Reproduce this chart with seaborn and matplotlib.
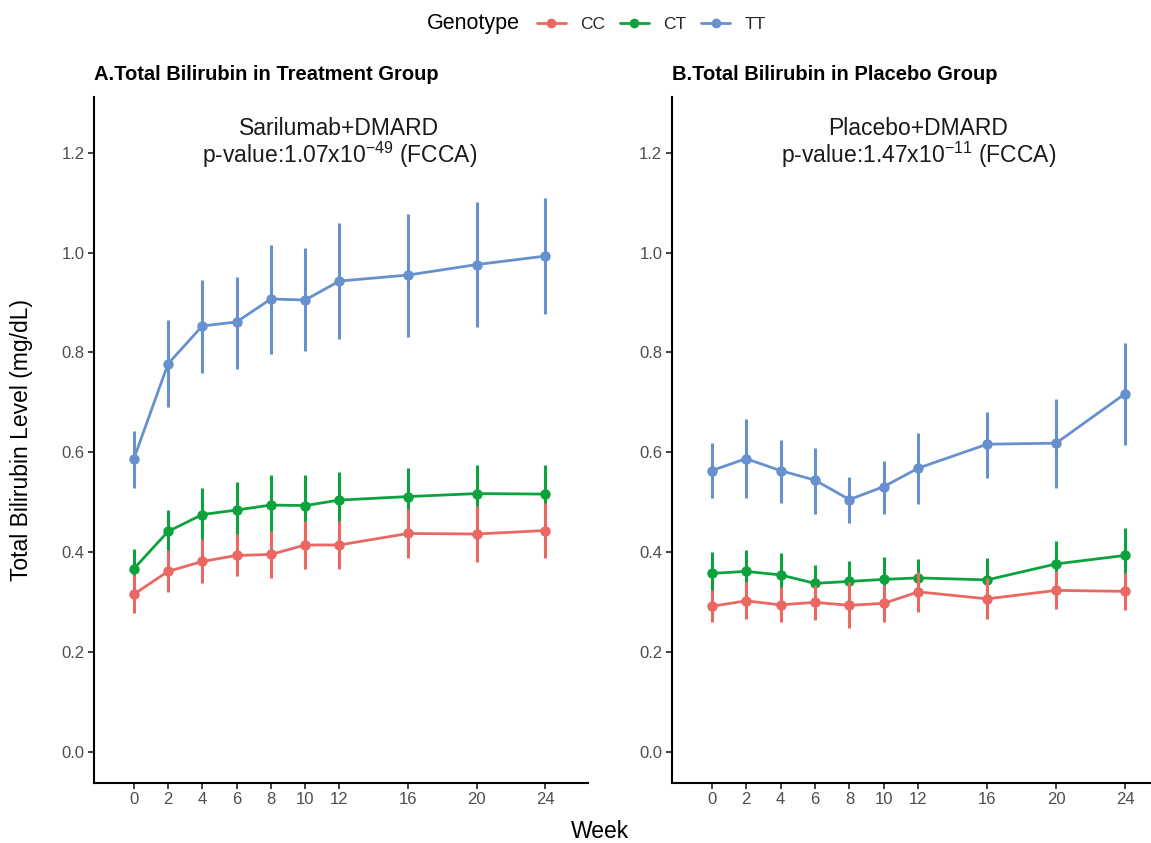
import numpy as np
import pandas as pd
import seaborn as sns
import matplotlib
matplotlib.use("Agg")
import matplotlib.pyplot as plt
from matplotlib.lines import Line2D

# ---------------- data ----------------
weeks = [0, 2, 4, 6, 8, 10, 12, 16, 20, 24]
genotypes = ["CC", "CT", "TT"]

# Panel A: Treatment (Sarilumab+DMARD)
trt_cc = [0.315, 0.361, 0.381, 0.393, 0.395, 0.414, 0.414, 0.437, 0.436, 0.443]
trt_cc_lo = [0.277, 0.319, 0.337, 0.351, 0.347, 0.365, 0.366, 0.387, 0.379, 0.387]
trt_cc_hi = [0.353, 0.403, 0.425, 0.435, 0.443, 0.463, 0.462, 0.487, 0.493, 0.499]
trt_ct = [0.366, 0.441, 0.475, 0.484, 0.494, 0.493, 0.504, 0.511, 0.517, 0.516]
trt_ct_lo = [0.327, 0.400, 0.421, 0.427, 0.434, 0.431, 0.447, 0.453, 0.460, 0.457]
trt_ct_hi = [0.405, 0.485, 0.529, 0.541, 0.554, 0.555, 0.561, 0.569, 0.574, 0.575]
trt_tt = [0.586, 0.777, 0.853, 0.861, 0.907, 0.905, 0.943, 0.955, 0.976, 0.993]
trt_tt_lo = [0.529, 0.691, 0.759, 0.767, 0.797, 0.802, 0.827, 0.831, 0.851, 0.876]
trt_tt_hi = [0.643, 0.864, 0.945, 0.952, 1.016, 1.009, 1.059, 1.077, 1.101, 1.109]

# Panel B: Placebo (Placebo+DMARD)
pbo_cc = [0.291, 0.302, 0.294, 0.299, 0.293, 0.297, 0.320, 0.306, 0.323, 0.321]
pbo_cc_lo = [0.259, 0.265, 0.259, 0.264, 0.247, 0.260, 0.280, 0.265, 0.285, 0.284]
pbo_cc_hi = [0.323, 0.339, 0.329, 0.334, 0.339, 0.334, 0.360, 0.347, 0.361, 0.358]
pbo_ct = [0.357, 0.361, 0.354, 0.337, 0.341, 0.345, 0.348, 0.344, 0.376, 0.393]
pbo_ct_lo = [0.315, 0.319, 0.311, 0.300, 0.301, 0.301, 0.310, 0.301, 0.330, 0.337]
pbo_ct_hi = [0.399, 0.403, 0.397, 0.374, 0.381, 0.389, 0.386, 0.387, 0.422, 0.449]
pbo_tt = [0.563, 0.587, 0.563, 0.544, 0.505, 0.531, 0.568, 0.616, 0.618, 0.717]
pbo_tt_lo = [0.508, 0.508, 0.499, 0.477, 0.459, 0.477, 0.496, 0.549, 0.529, 0.615]
pbo_tt_hi = [0.619, 0.666, 0.625, 0.609, 0.551, 0.583, 0.639, 0.681, 0.706, 0.819]

panel_titles = ["A.Total Bilirubin in Treatment Group", "B.Total Bilirubin in Placebo Group"]
arm_labels = ["Sarilumab+DMARD", "Placebo+DMARD"]
pvalue_labels = [r"p-value:1.07x10$^{-49}$ (FCCA)", r"p-value:1.47x10$^{-11}$ (FCCA)"]
y_ticks = [0.0, 0.2, 0.4, 0.6, 0.8, 1.0, 1.2]

colors = {"CC": "#EA6861", "CT": "#0CA33D", "TT": "#6790CF"}


def make_df(cc, cc_lo, cc_hi, ct, ct_lo, ct_hi, tt, tt_lo, tt_hi):
    rows = []
    for g, m, lo, hi in [("CC", cc, cc_lo, cc_hi), ("CT", ct, ct_lo, ct_hi), ("TT", tt, tt_lo, tt_hi)]:
        for w, v, l, h in zip(weeks, m, lo, hi):
            rows.append({"Week": w, "Value": v, "Lo": l, "Hi": h, "Genotype": g})
    return pd.DataFrame(rows)


df_a = make_df(trt_cc, trt_cc_lo, trt_cc_hi, trt_ct, trt_ct_lo, trt_ct_hi, trt_tt, trt_tt_lo, trt_tt_hi)
df_b = make_df(pbo_cc, pbo_cc_lo, pbo_cc_hi, pbo_ct, pbo_ct_lo, pbo_ct_hi, pbo_tt, pbo_tt_lo, pbo_tt_hi)

# ---------------- style ----------------
sns.set_style("white")
plt.rcParams["font.family"] = ["Liberation Sans", "DejaVu Sans"]
plt.rcParams["mathtext.default"] = "regular"

W, H = 1151, 843
fig = plt.figure(figsize=(W / 100, H / 100), dpi=100)

axA = fig.add_axes([94.3 / W, 1 - 782.7 / H, 493.7 / W, (782.7 - 96.7) / H])
axB = fig.add_axes([672.0 / W, 1 - 782.7 / H, 496.0 / W, (782.7 - 96.7) / H])

for i, (ax, df) in enumerate([(axA, df_a), (axB, df_b)]):
    sns.lineplot(data=df, x="Week", y="Value", hue="Genotype", hue_order=genotypes,
                 palette=colors, marker="o", markersize=7.5, markeredgewidth=0,
                 linewidth=2.0, legend=False, errorbar=None, ax=ax, zorder=2)
    for g in ["TT", "CT", "CC"]:
        sub = df[df["Genotype"] == g]
        ax.vlines(sub["Week"], sub["Lo"], sub["Hi"], color=colors[g], linewidth=2.2, zorder=3)

    ax.set_xlim(-2.3, 26.5)
    ax.set_ylim(-0.0625, 1.3125)
    ax.set_xticks(weeks)
    ax.set_xticklabels([str(w) for w in weeks])
    ax.set_yticks(y_ticks)
    ax.set_yticklabels([f"{v:.1f}" for v in y_ticks])
    ax.set_xlabel("")
    ax.set_ylabel("")
    for s in ["top", "right"]:
        ax.spines[s].set_visible(False)
    for s in ["left", "bottom"]:
        ax.spines[s].set_color("black")
        ax.spines[s].set_linewidth(1.5)
    ax.tick_params(axis="both", which="major", length=4, width=1.3, color="#333333",
                   labelsize=12, labelcolor="#4D4D4D", pad=3, direction="out",
                   bottom=True, left=True)

    ax.text(0.0, 1.0 + (96.7 - 74) / 686, panel_titles[i], transform=ax.transAxes,
            ha="left", va="center", fontsize=14.5, fontweight="bold", color="black")
    ax.text(12, 1.236, arm_labels[i], ha="center", va="baseline", fontsize=16.5, color="#1A1A1A")
    ax.text(12, 1.180, pvalue_labels[i], ha="center", va="baseline", fontsize=16.5, color="#1A1A1A")

fig.text(22 / W, 1 - 440 / H, "Total Bilirubin Level (mg/dL)", rotation=90,
         ha="center", va="center", fontsize=16.5, color="black")
fig.text(600 / W, 1 - 831 / H, "Week", ha="center", va="center", fontsize=16.5, color="black")

# legend
fig.text(427 / W, 1 - 24 / H, "Genotype", ha="left", va="center", fontsize=15.5, color="black")
handles = [Line2D([0], [0], color=colors[g], marker="o", markersize=7, markeredgewidth=0,
                  linewidth=2.0) for g in genotypes]
fig.legend(handles, genotypes, loc="center left", bbox_to_anchor=(537 / W, 1 - 24 / H),
           ncol=3, frameon=False, fontsize=12.5, handlelength=1.65, handletextpad=0.85,
           columnspacing=0.85, borderpad=0, borderaxespad=0)

fig.savefig("out.png", dpi=100)
